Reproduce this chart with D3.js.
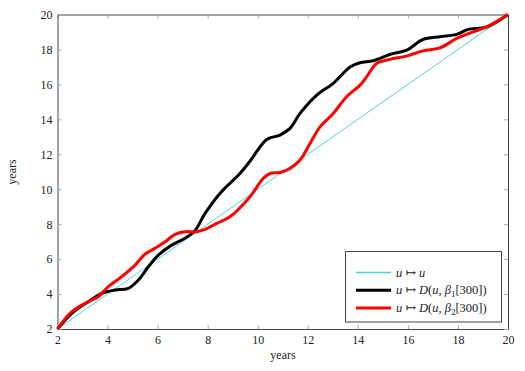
<!DOCTYPE html>
<html>
<head>
<meta charset="utf-8">
<script src="https://cdn.jsdelivr.net/npm/d3@7"></script>
<style>
  body { margin: 0; background: #fff; }
  svg text { font-family: "Liberation Serif", "DejaVu Serif", serif; fill: #222; }
</style>
</head>
<body>
<div id="viz"></div>
<script>
const W = 525, H = 371;

// identity line u -> u
const idU = [2, 20];
// u -> D(u, beta1[300])  (black)
const blackU = [2, 2.57, 3.23, 3.77, 4.3, 4.83, 5.23, 5.63, 6.03, 6.56, 7.09, 7.49, 7.89, 8.49, 9.29, 9.69, 10.36, 10.89, 11.29, 11.69, 12.36, 13.02, 13.69, 14.09, 14.62, 15.28, 15.95, 16.6, 17.28, 17.95, 18.41, 19.15, 20];
const blackV = [2, 2.9, 3.56, 4.04, 4.23, 4.33, 4.8, 5.56, 6.23, 6.8, 7.19, 7.62, 8.6, 9.76, 10.9, 11.6, 12.85, 13.1, 13.48, 14.34, 15.39, 16.06, 17.0, 17.24, 17.35, 17.71, 17.96, 18.57, 18.73, 18.86, 19.15, 19.29, 20];
// u -> D(u, beta2[300])  (red)
const redU = [2, 2.57, 3.23, 3.63, 4.03, 4.56, 5.1, 5.5, 5.9, 6.3, 6.7, 7.09, 7.49, 7.89, 8.36, 8.89, 9.69, 10.22, 10.49, 10.89, 11.29, 11.69, 12.09, 12.49, 13.02, 13.55, 14.09, 14.35, 14.75, 15.28, 15.95, 16.6, 17.28, 17.95, 18.61, 19.15, 20];
const redV = [2, 2.99, 3.56, 3.85, 4.42, 4.99, 5.66, 6.29, 6.62, 6.99, 7.42, 7.57, 7.55, 7.7, 8.05, 8.42, 9.57, 10.62, 10.9, 10.96, 11.19, 11.67, 12.62, 13.57, 14.34, 15.29, 15.96, 16.43, 17.2, 17.43, 17.62, 17.92, 18.09, 18.63, 19.01, 19.29, 20];

const ticks = [2, 4, 6, 8, 10, 12, 14, 16, 18, 20];

const svg = d3.select('#viz').append('svg')
  .attr('width', W).attr('height', H);

const x = d3.scaleLinear().domain([2, 20]).range([57.5, 508]);
const y = d3.scaleLinear().domain([2, 20]).range([329, 14.5]);

// axes with inward ticks on all sides
const tickLen = 4;
svg.append('g').attr('transform', 'translate(0,329)')
  .call(d3.axisBottom(x).tickValues(ticks).tickSizeInner(-tickLen).tickSizeOuter(0).tickPadding(6))
  .call(g => g.selectAll('text').style('font-size', '12px'));
svg.append('g').attr('transform', 'translate(0,14.5)')
  .call(d3.axisTop(x).tickValues(ticks).tickSizeInner(-tickLen).tickSizeOuter(0).tickFormat(''));
svg.append('g').attr('transform', 'translate(57.5,0)')
  .call(d3.axisLeft(y).tickValues(ticks).tickSizeInner(-tickLen).tickSizeOuter(0).tickPadding(5))
  .call(g => g.selectAll('text').style('font-size', '12px'));
svg.append('g').attr('transform', 'translate(508,0)')
  .call(d3.axisRight(y).tickValues(ticks).tickSizeInner(-tickLen).tickSizeOuter(0).tickFormat(''));

svg.selectAll('.domain').attr('stroke', '#444');
svg.selectAll('.tick line').attr('stroke', '#aaa');
svg.selectAll('.tick text').attr('fill', '#222').style('font-family', '"Liberation Serif", serif');

// axis labels
svg.append('text').attr('x', 283).attr('y', 359).attr('text-anchor', 'middle')
  .style('font-size', '12px').text('years');
svg.append('text').attr('transform', 'translate(16,172) rotate(-90)').attr('text-anchor', 'middle')
  .style('font-size', '12px').text('years');

const line = d3.line().x(d => x(d[0])).y(d => y(d[1])).curve(d3.curveCatmullRom.alpha(0.5));

const plot = svg.append('g');
plot.append('path').datum(idU.map(u => [u, u]))
  .attr('d', line).attr('fill', 'none').attr('stroke', '#4fd3da').attr('stroke-width', 1);
plot.append('path').datum(blackU.map((u, i) => [u, blackV[i]]))
  .attr('d', line).attr('fill', 'none').attr('stroke', '#000').attr('stroke-width', 3);
plot.append('path').datum(redU.map((u, i) => [u, redV[i]]))
  .attr('d', line).attr('fill', 'none').attr('stroke', '#ff0000').attr('stroke-width', 3);

// legend
const leg = svg.append('g');
leg.append('rect').attr('x', 345.5).attr('y', 251.5).attr('width', 156).attr('height', 70.5)
  .attr('fill', '#fff').attr('stroke', '#444').attr('stroke-width', 1);

const legItems = [
  { color: '#4fd3da', w: 1.5, sub: null },
  { color: '#000', w: 3, sub: '1' },
  { color: '#ff0000', w: 3, sub: '2' }
];
legItems.forEach((it, i) => {
  const ly = 272.5 + i * 17.7;
  leg.append('line').attr('x1', 356).attr('x2', 391).attr('y1', ly).attr('y2', ly)
    .attr('stroke', it.color).attr('stroke-width', it.w);
  const t = leg.append('text').attr('x', 396).attr('y', ly + 4).style('font-size', '12.5px');
  t.append('tspan').style('font-style', 'italic').text('u');
  t.append('tspan').text(' \u21A6 ');
  if (it.sub === null) {
    t.append('tspan').style('font-style', 'italic').text('u');
  } else {
    t.append('tspan').style('font-style', 'italic').text('D');
    t.append('tspan').text('(');
    t.append('tspan').style('font-style', 'italic').text('u');
    t.append('tspan').text(', ');
    t.append('tspan').style('font-style', 'italic').text('\u03B2');
    t.append('tspan').attr('dy', 3).style('font-size', '9px').text(it.sub);
    t.append('tspan').attr('dy', -3).text('[300])');
  }
});
</script>
</body>
</html>
